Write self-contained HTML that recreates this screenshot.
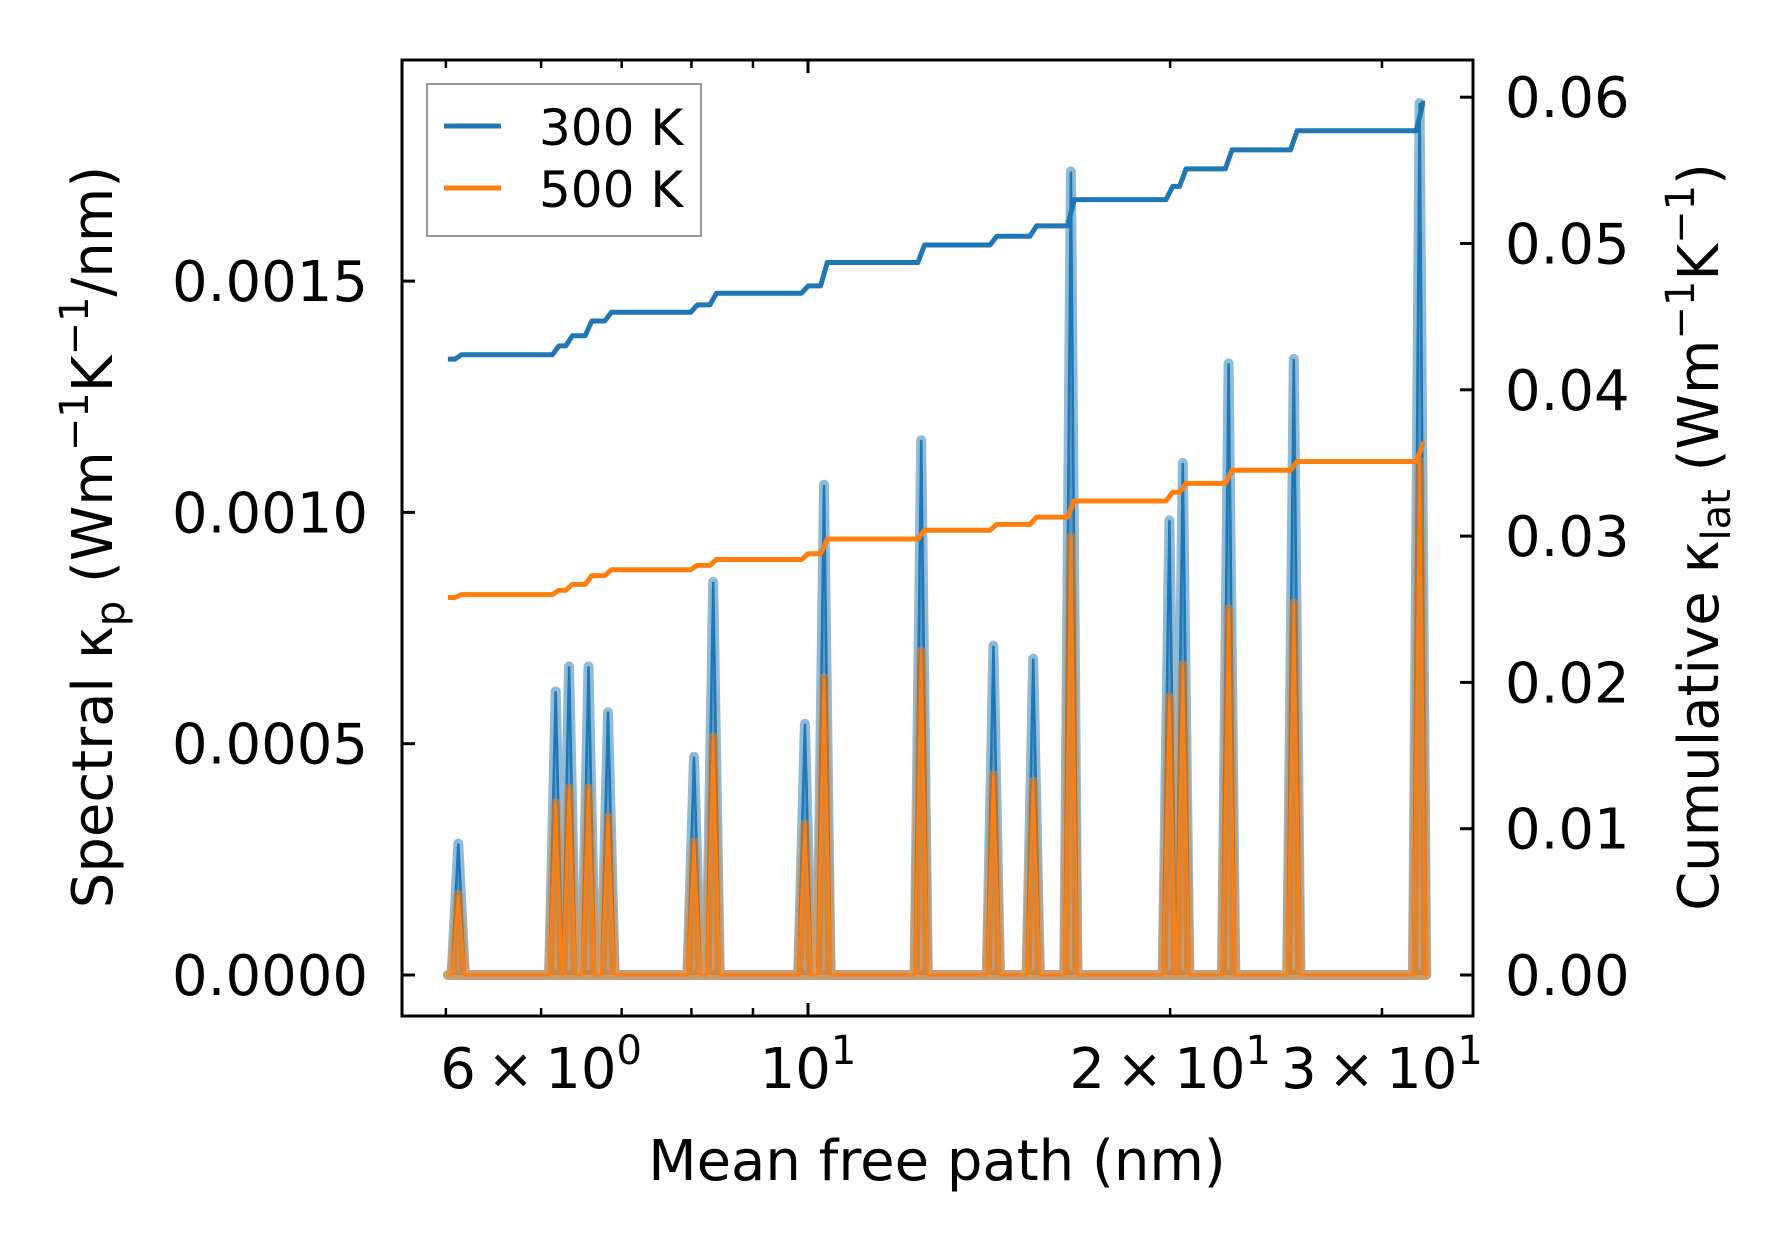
<!DOCTYPE html>
<html><head><meta charset="utf-8"><style>
html,body{margin:0;padding:0;background:#fff}
svg{display:block}
text{font-family:"DejaVu Sans","Liberation Sans",sans-serif;fill:#000}
</style></head><body>
<svg id="chart" width="1790" height="1253" viewBox="0 0 1790 1253" xmlns="http://www.w3.org/2000/svg">
<g id="marks"></g>
<g id="axes"></g>
</svg>
<script>
// Spectral peaks (mean free path nm, spectral kappa)
const peakMfp = [5.12,6.17,6.33,6.57,6.82,8.04,8.34,9.94,10.31,12.42,14.26,15.39,16.54,19.97,20.49,22.37,25.34,32.24];
const peak300 = [0.000284,0.000613,0.000667,0.000667,0.000568,0.000472,0.00085,0.000543,0.00106,0.001156,0.000712,0.000684,0.001737,0.000983,0.001107,0.001322,0.001332,0.001885];
const peak500 = [0.000173,0.000371,0.000403,0.000403,0.000341,0.000287,0.000514,0.000326,0.000642,0.000699,0.000432,0.000418,0.000946,0.0006,0.00067,0.000791,0.000803,0.00111];
// Cumulative kappa step values (one before first peak, then after each peak)
const cum300 = [0.0421,0.0424,0.0430,0.0437,0.0447,0.0453,0.0458,0.0466,0.0471,0.0487,0.0499,0.0505,0.0512,0.0530,0.0539,0.0551,0.0564,0.0577,0.0596];
const cum500 = [0.0258,0.0260,0.0263,0.0267,0.0273,0.0277,0.0280,0.0284,0.0288,0.0298,0.0304,0.0308,0.0313,0.0324,0.0330,0.0336,0.0345,0.0351,0.0363];
const mfpStart = 5.02, mfpEnd = 32.58;
const leftTicks = [0,0.0005,0.0010,0.0015];
const leftTickLabels = ["0.0000","0.0005","0.0010","0.0015"];
const rightTicks = [0,0.01,0.02,0.03,0.04,0.05,0.06];
const rightTickLabels = ["0.00","0.01","0.02","0.03","0.04","0.05","0.06"];
const xMinorTicks = [5,6,7,8,9,20,30];
const xLabelTicks = [6,10,20,30];
const xLabelMant = ["6","","2","3"];

const NS="http://www.w3.org/2000/svg";
const L=402,R=1473,T=60,B=1016;
const X=v=>808+1203*(Math.log10(v)-1);
const YL=v=>975-v/0.0005*231.3;
const YR=v=>975-v/0.01*146.3;
const marks=document.getElementById('marks'), axes=document.getElementById('axes');
function mk(tag,attrs,parent){const e=document.createElementNS(NS,tag);for(const k in attrs)e.setAttribute(k,attrs[k]);parent.appendChild(e);return e;}

const dl=0.0055; // half-width of peak in decades
function specPts(vals){
  const p=[[X(mfpStart),YL(0)]];
  peakMfp.forEach((m,i)=>{const lm=Math.log10(m);
    p.push([X(Math.pow(10,lm-dl)),YL(0)]);p.push([X(m),YL(vals[i])]);p.push([X(Math.pow(10,lm+dl)),YL(0)]);});
  p.push([X(mfpEnd),YL(0)]);return p;}
function cumPts(vals){
  const p=[[X(mfpStart),YR(vals[0])]];
  const h=dl*0.5;
  peakMfp.forEach((m,i)=>{const lm=Math.log10(m);
    p.push([X(Math.pow(10,lm-h)),YR(vals[i])]);p.push([X(Math.pow(10,lm+h)),YR(vals[i+1])]);});
  p.push([X(mfpEnd),YR(vals[vals.length-1])]);return p;}
const ps=a=>a.map(q=>q[0].toFixed(1)+','+q[1].toFixed(1)).join(' ');

[[peak300,'#1f77b4','spectral-300k'],[peak500,'#ff7f0e','spectral-500k']].forEach(([vals,c,n])=>{
  const pts=specPts(vals);
  const f=mk('polygon',{points:ps(pts),fill:c,'fill-opacity':0.5,stroke:c,'stroke-opacity':0.5,'stroke-width':10,'stroke-linejoin':'round'},marks);
  
  
  const l=mk('polyline',{points:ps(pts),fill:'none',stroke:c,'stroke-width':2.5},marks);
  
  
});
[[cum300,'#1f77b4','cumulative-300k'],[cum500,'#ff7f0e','cumulative-500k']].forEach(([vals,c,n])=>{
  const l=mk('polyline',{points:ps(cumPts(vals)),fill:'none',stroke:c,'stroke-width':5,'stroke-linejoin':'round'},marks);
  
  
});

// frame
const fr=mk('rect',{x:L,y:T,width:R-L,height:B-T,fill:'none',stroke:'#000','stroke-width':3},axes);


leftTicks.forEach((v,i)=>{const y=YL(v);
  mk('line',{x1:L,x2:L+13,y1:y,y2:y,stroke:'#000','stroke-width':3},axes);
  const t=mk('text',{x:368,y:y+20,'text-anchor':'end','font-size':56},axes);t.textContent=leftTickLabels[i];
  
  });
rightTicks.forEach((v,i)=>{const y=YR(v);
  mk('line',{x1:R-13,x2:R,y1:y,y2:y,stroke:'#000','stroke-width':3},axes);
  const t=mk('text',{x:1505,y:y+20,'font-size':56},axes);t.textContent=rightTickLabels[i];
  
  });
mk('line',{x1:X(10),x2:X(10),y1:B,y2:B-13,stroke:'#000','stroke-width':3},axes);
mk('line',{x1:X(10),x2:X(10),y1:T,y2:T+13,stroke:'#000','stroke-width':3},axes);
xMinorTicks.forEach(v=>{const x=X(v);
  mk('line',{x1:x,x2:x,y1:B,y2:B-8,stroke:'#000','stroke-width':2.5},axes);
  mk('line',{x1:x,x2:x,y1:T,y2:T+8,stroke:'#000','stroke-width':2.5},axes);});
xLabelTicks.forEach((v,i)=>{
  const t=mk('text',{x:X(v),y:1088,'text-anchor':'middle','font-size':56},axes);
  
  
  t.innerHTML=(xLabelMant[i]?xLabelMant[i]+'\u2009×\u200910':'10')+'<tspan dy="-24" font-size="40">'+(v<10?'0':'1')+'</tspan>';
});
</script>
<svg style="position:absolute;left:0;top:0" width="1790" height="1253" xmlns="http://www.w3.org/2000/svg">
<text x="937" y="1180" text-anchor="middle" font-size="56">Mean free path (nm)</text>
<text transform="translate(112,537) rotate(-90)" text-anchor="middle" font-size="56">Spectral κ<tspan dy="12" font-size="40">p</tspan><tspan dy="-12"> (Wm</tspan><tspan dy="-24" font-size="40">−1</tspan><tspan dy="24">K</tspan><tspan dy="-24" font-size="40">−1</tspan><tspan dy="24">/nm)</tspan></text>
<text transform="translate(1718,537) rotate(-90)" text-anchor="middle" font-size="56">Cumulative κ<tspan dy="12" font-size="40">lat</tspan><tspan dy="-12"> (Wm</tspan><tspan dy="-24" font-size="40">−1</tspan><tspan dy="24">K</tspan><tspan dy="-24" font-size="40">−1</tspan><tspan dy="24">)</tspan></text>
<g>
<rect x="427" y="84" width="274" height="152" fill="#fff" fill-opacity="0.8" stroke="#999" stroke-width="2"/>
<line x1="444" x2="501" y1="126" y2="126" stroke="#1f77b4" stroke-width="5"/>
<text x="539" y="145" font-size="50">300 K</text>
<line x1="444" x2="501" y1="188" y2="188" stroke="#ff7f0e" stroke-width="5"/>
<text x="539" y="207" font-size="50">500 K</text>
</g>
</svg>
</body></html>
